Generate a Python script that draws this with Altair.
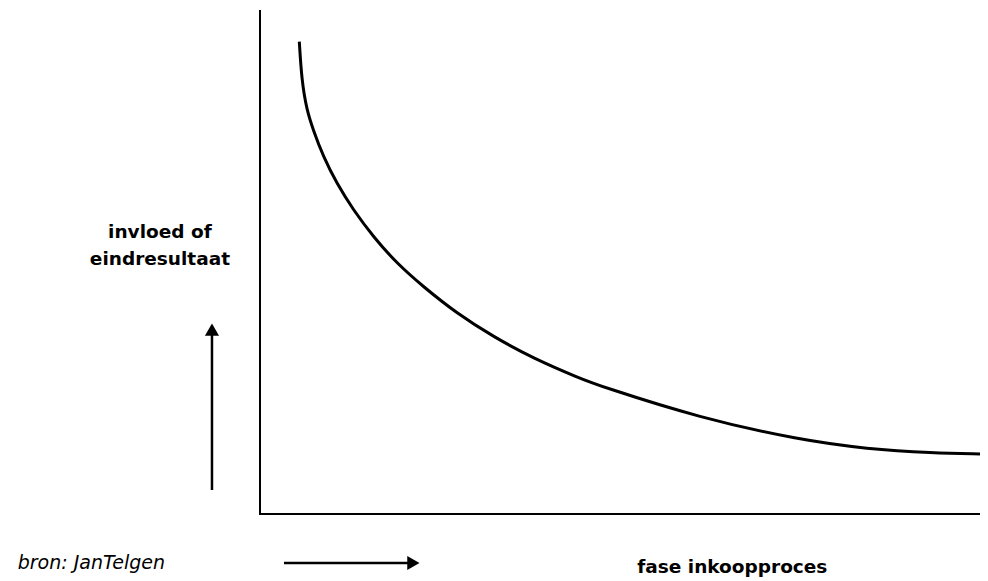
import altair as alt
import pandas as pd

# curve: influence on end result vs phase of purchasing process
curve_x = [0.546, 0.579, 0.649, 0.740, 0.879, 1.065, 1.296, 1.574, 1.899, 2.268, 2.732,
           3.240, 3.796, 4.444, 4.722, 6.111, 7.500, 8.431, 9.347, 10.0]
curve_y = [9.371, 8.611, 8.016, 7.619, 7.089, 6.562, 6.032, 5.502, 4.974, 4.510, 3.982,
           3.518, 3.089, 2.692, 2.540, 1.905, 1.468, 1.290, 1.210, 1.190]

# axis frame (origin corner)
frame_x = [0, 0, 10]
frame_y = [10, 0, 0]
frame_order = [0, 1, 2]

# arrows: shaft start/end and head position
arrow_x1 = [-0.667, 0.333]
arrow_y1 = [0.476, -0.972]
arrow_x2 = [-0.667, 2.13]
arrow_y2 = [3.60, -0.972]
head_x = [-0.667, 2.13]
head_y = [3.66, -0.972]
head_shape = ["triangle-up", "triangle-right"]

# labels
bold_text = ["invloed of", "eindresultaat", "fase inkoopproces"]
bold_x = [-1.39, -1.39, 6.56]
bold_y = [5.60, 5.06, -1.05]
source_text = ["bron: JanTelgen"]
source_x = [-1.32]
source_y = [-0.97]

xs = alt.Scale(domain=[-3.5, 10], nice=False, zero=False)
ys = alt.Scale(domain=[-1.27, 10.04], nice=False, zero=False)

curve_df = pd.DataFrame({"x": curve_x, "y": curve_y, "o": list(range(len(curve_x)))})
frame_df = pd.DataFrame({"x": frame_x, "y": frame_y, "o": frame_order})
arrow_df = pd.DataFrame({"x": arrow_x1, "y": arrow_y1, "x2": arrow_x2, "y2": arrow_y2})
head_df = pd.DataFrame({"x": head_x, "y": head_y, "shape": head_shape})
bold_df = pd.DataFrame({"x": bold_x, "y": bold_y, "t": bold_text})
src_df = pd.DataFrame({"x": source_x, "y": source_y, "t": source_text})

X = lambda: alt.X("x:Q", scale=xs, axis=None)
Y = lambda: alt.Y("y:Q", scale=ys, axis=None)

frame = alt.Chart(frame_df).mark_line(color="black", strokeWidth=2, clip=False).encode(
    x=X(), y=Y(), order="o:Q")

curve = alt.Chart(curve_df).mark_line(color="black", strokeWidth=3, interpolate="basis", clip=False).encode(
    x=X(), y=Y(), order="o:Q")

arrows = alt.Chart(arrow_df).mark_rule(color="black", strokeWidth=2.5).encode(
    x=X(), y=Y(), x2="x2:Q", y2="y2:Q")

heads = alt.Chart(head_df).mark_point(filled=True, color="black", opacity=1, size=200).encode(
    x=X(), y=Y(),
    shape=alt.Shape("shape:N", scale=None, legend=None))

bold = alt.Chart(bold_df).mark_text(font="DejaVu Sans", fontWeight="bold", fontSize=18.5,
                                    color="black", align="center", baseline="middle").encode(
    x=X(), y=Y(), text="t:N")

src = alt.Chart(src_df).mark_text(font="DejaVu Sans", fontStyle="italic", fontSize=19,
                                  color="black", align="right", baseline="middle").encode(
    x=X(), y=Y(), text="t:N")

chart = alt.layer(frame, curve, arrows, heads, bold, src).properties(
    width=972, height=570, padding=0, autosize=alt.AutoSizeParams(type="none")
).configure_view(stroke=None)

chart.save("out.html", embed_options={"renderer": "svg", "actions": False})
